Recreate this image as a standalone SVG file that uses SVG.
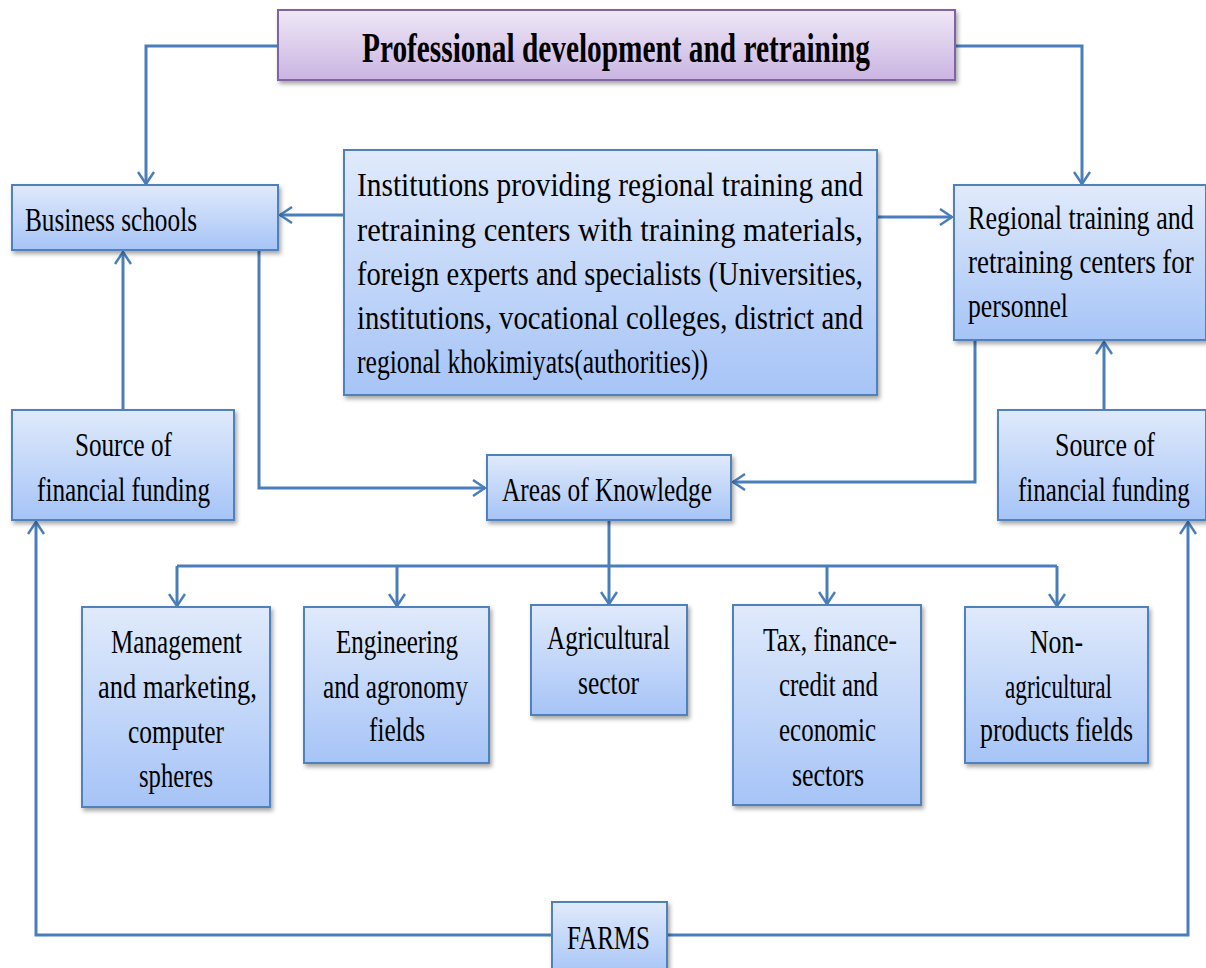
<svg xmlns="http://www.w3.org/2000/svg" width="1206" height="968" viewBox="0 0 1206 968">
<style>
.box{fill:url(#gb);stroke:#4f81bd;stroke-width:2;filter:url(#sh)}
.tbox{fill:url(#gp);stroke:#8064a2;stroke-width:2;filter:url(#sh)}
.t{font-family:"Liberation Serif","Times New Roman",serif;font-size:34px;fill:#000}
.tt{font-family:"Liberation Serif","Times New Roman",serif;font-size:43px;font-weight:bold;fill:#000}
.c{fill:none;stroke:#4a7ebb;stroke-width:3}
.a{marker-end:url(#ar)}
</style>
<defs>
<linearGradient id="gb" x1="0" y1="0" x2="0" y2="1">
<stop offset="0" stop-color="#e0eafb"/><stop offset="1" stop-color="#a6c4f7"/>
</linearGradient>
<linearGradient id="gp" x1="0" y1="0" x2="0" y2="1">
<stop offset="0" stop-color="#efe8f6"/><stop offset="1" stop-color="#cab4e2"/>
</linearGradient>
<filter id="sh" x="-5%" y="-5%" width="115%" height="125%">
<feDropShadow dx="2" dy="3" stdDeviation="2" flood-color="#000" flood-opacity="0.35"/>
</filter>
<marker id="ar" viewBox="0 0 14 18" refX="13" refY="9" markerWidth="14" markerHeight="18" markerUnits="userSpaceOnUse" orient="auto">
<path d="M1,1 L13,9 L1,17" fill="none" stroke="#4a7ebb" stroke-width="2.5"/>
</marker>
</defs>

<g id="connectors">
<path class="c a" d="M278,46 H146 V184"/>
<path class="c a" d="M955,46 H1082 V184"/>
<path class="c a" d="M344,215 H280"/>
<path class="c a" d="M877,217 H952"/>
<path class="c a" d="M259,250 V488 H485"/>
<path class="c a" d="M975,340 V482 H733"/>
<path class="c a" d="M123,410 V252"/>
<path class="c a" d="M1104,410 V342"/>
<path class="c a" d="M609,520 V604"/>
<path class="c" d="M177,566 H1057"/>
<path class="c a" d="M177,566 V606"/>
<path class="c a" d="M397,566 V606"/>
<path class="c a" d="M827,566 V604"/>
<path class="c a" d="M1057,566 V606"/>
<path class="c a" d="M552,935 H36 V522"/>
<path class="c a" d="M667,935 H1188 V522"/>
</g>

<g id="title">
<rect class="tbox" x="278" y="10" width="677" height="70"/>
<text class="tt" x="362" y="62" textLength="508" lengthAdjust="spacingAndGlyphs">Professional development and retraining</text>
</g>

<g id="business-schools">
<rect class="box" x="12" y="185" width="266" height="65"/>
<text class="t" x="25" y="231" textLength="172" lengthAdjust="spacingAndGlyphs">Business schools</text>
</g>

<g id="institutions">
<rect class="box" x="344" y="150" width="533" height="245"/>
<text class="t" x="357" y="196" textLength="506" lengthAdjust="spacingAndGlyphs">Institutions providing regional training and</text>
<text class="t" x="357" y="241" textLength="506" lengthAdjust="spacingAndGlyphs">retraining centers with training materials,</text>
<text class="t" x="357" y="285" textLength="506" lengthAdjust="spacingAndGlyphs">foreign experts and specialists (Universities,</text>
<text class="t" x="357" y="329" textLength="506" lengthAdjust="spacingAndGlyphs">institutions, vocational colleges, district and</text>
<text class="t" x="357" y="373" textLength="351" lengthAdjust="spacingAndGlyphs">regional khokimiyats(authorities))</text>
</g>

<g id="regional-centers">
<rect class="box" x="954" y="185" width="252" height="155"/>
<text class="t" transform="translate(968,229) scale(0.75,1)" textLength="301" lengthAdjust="spacingAndGlyphs">Regional training and</text>
<text class="t" transform="translate(968,273) scale(0.75,1)" textLength="301" lengthAdjust="spacingAndGlyphs">retraining centers for</text>
<text class="t" x="968" y="317" textLength="100" lengthAdjust="spacingAndGlyphs">personnel</text>
</g>

<g id="source-left">
<rect class="box" x="12" y="410" width="222" height="110"/>
<text class="t" x="75" y="456" textLength="97" lengthAdjust="spacingAndGlyphs">Source of</text>
<text class="t" x="37" y="501" textLength="173" lengthAdjust="spacingAndGlyphs">financial funding</text>
</g>

<g id="areas">
<rect class="box" x="487" y="455" width="244" height="65"/>
<text class="t" x="502" y="501" textLength="210" lengthAdjust="spacingAndGlyphs">Areas of Knowledge</text>
</g>

<g id="source-right">
<rect class="box" x="998" y="410" width="208" height="110"/>
<text class="t" x="1055" y="456" textLength="100" lengthAdjust="spacingAndGlyphs">Source of</text>
<text class="t" transform="translate(1018,501) scale(0.75,1)" textLength="229" lengthAdjust="spacingAndGlyphs">financial funding</text>
</g>

<g id="management">
<rect class="box" x="82" y="607" width="188" height="200"/>
<text class="t" x="111" y="653" textLength="131" lengthAdjust="spacingAndGlyphs">Management</text>
<text class="t" x="98" y="698" textLength="159" lengthAdjust="spacingAndGlyphs">and marketing,</text>
<text class="t" x="128" y="743" textLength="96" lengthAdjust="spacingAndGlyphs">computer</text>
<text class="t" x="139" y="787" textLength="74" lengthAdjust="spacingAndGlyphs">spheres</text>
</g>

<g id="engineering">
<rect class="box" x="304" y="607" width="185" height="156"/>
<text class="t" x="336" y="653" textLength="122" lengthAdjust="spacingAndGlyphs">Engineering</text>
<text class="t" x="323" y="698" textLength="145" lengthAdjust="spacingAndGlyphs">and agronomy</text>
<text class="t" x="369" y="741" textLength="56" lengthAdjust="spacingAndGlyphs">fields</text>
</g>

<g id="agricultural">
<rect class="box" x="531" y="605" width="156" height="110"/>
<text class="t" x="547" y="649" textLength="123" lengthAdjust="spacingAndGlyphs">Agricultural</text>
<text class="t" x="578" y="694" textLength="61" lengthAdjust="spacingAndGlyphs">sector</text>
</g>

<g id="tax">
<rect class="box" x="733" y="605" width="188" height="200"/>
<text class="t" x="763" y="651" textLength="134" lengthAdjust="spacingAndGlyphs">Tax, finance-</text>
<text class="t" x="779" y="696" textLength="99" lengthAdjust="spacingAndGlyphs">credit and</text>
<text class="t" x="779" y="741" textLength="97" lengthAdjust="spacingAndGlyphs">economic</text>
<text class="t" x="792" y="786" textLength="72" lengthAdjust="spacingAndGlyphs">sectors</text>
</g>

<g id="non-agricultural">
<rect class="box" x="965" y="607" width="183" height="156"/>
<text class="t" x="1030" y="653" textLength="53" lengthAdjust="spacingAndGlyphs">Non-</text>
<text class="t" x="1005" y="698" textLength="107" lengthAdjust="spacingAndGlyphs">agricultural</text>
<text class="t" x="980" y="741" textLength="153" lengthAdjust="spacingAndGlyphs">products fields</text>
</g>

<g id="farms">
<rect class="box" x="552" y="902" width="115" height="75"/>
<text class="t" x="567" y="949" textLength="83" lengthAdjust="spacingAndGlyphs">FARMS</text>
</g>
</svg>
